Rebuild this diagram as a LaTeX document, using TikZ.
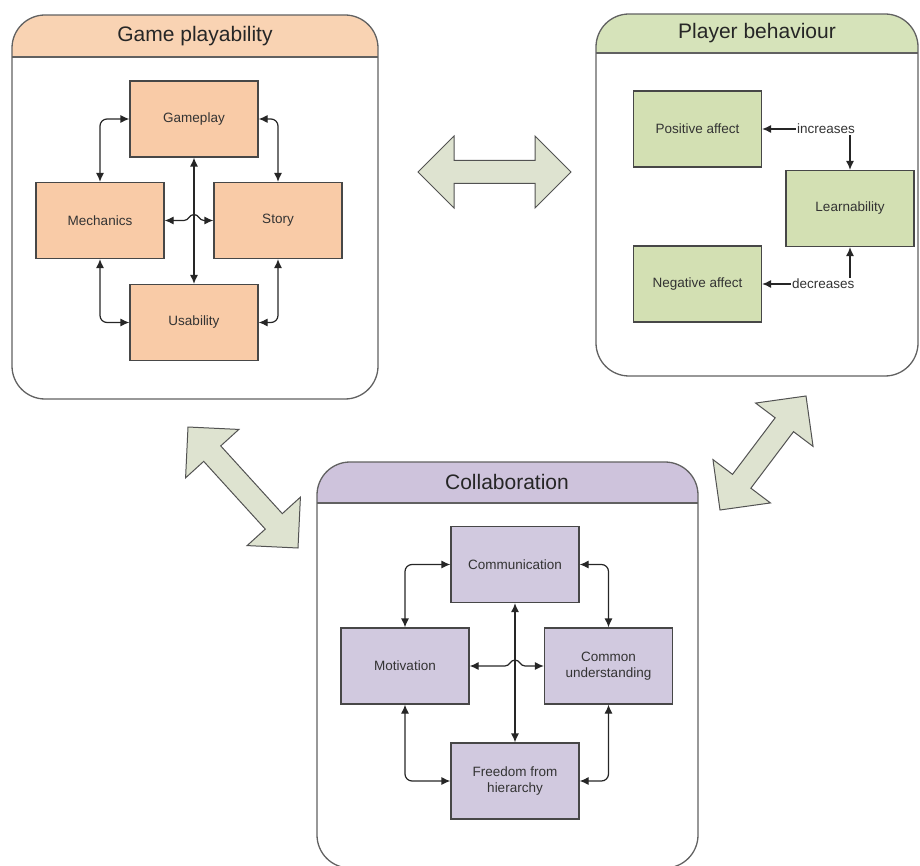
\documentclass[tikz,border=0pt]{standalone}
\usepackage{fontspec}
\setmainfont{Liberation Sans}
\usetikzlibrary{arrows.meta,calc}

\definecolor{orangehead}{HTML}{F9D3B3}
\definecolor{orangebox}{HTML}{F9CBA7}
\definecolor{greenhead}{HTML}{D6E3BA}
\definecolor{greenbox}{HTML}{D3E0B3}
\definecolor{purplehead}{HTML}{CEC3DC}
\definecolor{purplebox}{HTML}{D1C9DF}
\definecolor{arrowfill}{HTML}{DEE3D0}
\definecolor{inktext}{HTML}{333333}

% Rounded panel with a coloured header band
\newcommand\drawpanel[6]{%
  \begin{scope}
    \clip[rounded corners=33pt] (#1,#2) rectangle (#3,#4);
    \fill[#6] (#1,#2) rectangle (#3,#5);
  \end{scope}
  \draw[panelline] (#1,#5) -- (#3,#5);
  \draw[panelline, rounded corners=33pt] (#1,#2) rectangle (#3,#4);
}

% Broad double-headed block arrow between two tip coordinates
\newcommand\blockarrow[2]{%
  \coordinate (ha) at ($(#1)!36pt!(#2)$);
  \coordinate (hb) at ($(#2)!36pt!(#1)$);
  \filldraw[bigarrow] (#1)
    -- ($(ha)!36pt!90:(#2)$) -- ($(ha)!11.5pt!90:(#2)$)
    -- ($(hb)!11.5pt!-90:(#1)$) -- ($(hb)!36pt!-90:(#1)$)
    -- (#2)
    -- ($(hb)!36pt!90:(#1)$) -- ($(hb)!11.5pt!90:(#1)$)
    -- ($(ha)!11.5pt!-90:(#2)$) -- ($(ha)!36pt!-90:(#2)$)
    -- cycle;
}

\begin{document}
\begin{tikzpicture}[x=1pt, y=-1pt,
  panelline/.style={draw=black!62, line width=1.3pt},
  paneltitle/.style={font=\fontsize{21}{25}\selectfont, text=black!85},
  box/.style={draw=black!72, line width=1.2pt, minimum width=128pt,
    minimum height=76pt, inner sep=2pt, align=center,
    font=\fontsize{13.5}{16.5}\selectfont, text=inktext},
  lbl/.style={font=\fontsize{13.5}{16}\selectfont, text=inktext, inner sep=1pt},
  conn/.style={draw=black!85, line width=1.2pt, rounded corners=7pt},
  twoway/.style={{Latex[length=9pt,width=8pt]}-{Latex[length=9pt,width=8pt]}},
  oneway/.style={-{Latex[length=9pt,width=8pt]}},
  bigarrow/.style={fill=arrowfill, draw=black!68, line width=1pt, line join=miter}
]
\useasboundingbox (0,0) rectangle (920,866);

% ---------- Game playability ----------
\drawpanel{12}{15}{378}{399}{57}{orangehead}
\node[paneltitle] (tgame) at (195,36) {Game playability};
\node[box, fill=orangebox] (gp) at (194,119) {Gameplay};
\node[box, fill=orangebox] (mech) at (100,220.5) {Mechanics};
\node[box, fill=orangebox] (story) at (278,220.5) {Story};
\node[box, fill=orangebox] (us) at (194,322.5) {Usability};
\draw[conn, twoway] (gp.west) -| (mech.north);
\draw[conn, twoway] (gp.east) -| (story.north);
\draw[conn, twoway] (mech.south) |- (us.west);
\draw[conn, twoway] (story.south) |- (us.east);
\draw[conn, twoway] (gp.south) -- (us.north);
\coordinate (j1) at (gp.south |- mech.east);
\draw[conn, sharp corners, twoway] (mech.east) -- ([xshift=-10pt]j1)
  .. controls ([xshift=-5pt]j1) and ([xshift=-5pt,yshift=6pt]j1) .. ([yshift=6pt]j1)
  .. controls ([xshift=5pt,yshift=6pt]j1) and ([xshift=5pt]j1) .. ([xshift=10pt]j1)
  -- (story.west);

% ---------- Player behaviour ----------
\drawpanel{596}{14}{918}{376}{53}{greenhead}
\node[paneltitle] (tplayer) at (757,33) {Player behaviour};
\node[box, fill=greenbox] (pos) at (697.5,129) {Positive affect};
\node[box, fill=greenbox] (neg) at (697.5,284) {Negative affect};
\node[box, fill=greenbox] (learn) at (850,208.5) {Learnability};
\node[lbl, anchor=west] (inc) at (796,129) {increases};
\node[lbl, anchor=west] (dec) at (791,284) {decreases};
\draw[conn, oneway] (inc.west) -- (pos.east);
\draw[conn, oneway] (inc.south -| learn.north) -- (learn.north);
\draw[conn, oneway] (dec.west) -- (neg.east);
\draw[conn, oneway] (dec.north -| learn.south) -- (learn.south);

% ---------- Collaboration ----------
\drawpanel{317}{462}{698}{868}{503}{purplehead}
\node[paneltitle] (tcollab) at (507,482) {Collaboration};
\node[box, fill=purplebox] (comm) at (515,564.5) {Communication};
\node[box, fill=purplebox] (moti) at (405,666) {Motivation};
\node[box, fill=purplebox] (common) at (608.5,666) {Common\\understanding};
\node[box, fill=purplebox] (free) at (515,781) {Freedom from\\hierarchy};
\draw[conn, twoway] (comm.west) -| (moti.north);
\draw[conn, twoway] (comm.east) -| (common.north);
\draw[conn, twoway] (moti.south) |- (free.west);
\draw[conn, twoway] (common.south) |- (free.east);
\draw[conn, twoway] (comm.south) -- (free.north);
\coordinate (j2) at (comm.south |- moti.east);
\draw[conn, sharp corners, twoway] (moti.east) -- ([xshift=-10pt]j2)
  .. controls ([xshift=-5pt]j2) and ([xshift=-5pt,yshift=6pt]j2) .. ([yshift=6pt]j2)
  .. controls ([xshift=5pt,yshift=6pt]j2) and ([xshift=5pt]j2) .. ([xshift=10pt]j2)
  -- (common.west);

% ---------- Links between the three areas ----------
\coordinate (gameend) at (418,172);
\coordinate (playerend) at (571,172);
\blockarrow{gameend}{playerend}
\coordinate (gamelow) at (188,427);
\coordinate (collableft) at (298,548);
\blockarrow{gamelow}{collableft}
\coordinate (playerlow) at (806,396);
\coordinate (collabright) at (720,510);
\blockarrow{playerlow}{collabright}
\end{tikzpicture}
\end{document}
